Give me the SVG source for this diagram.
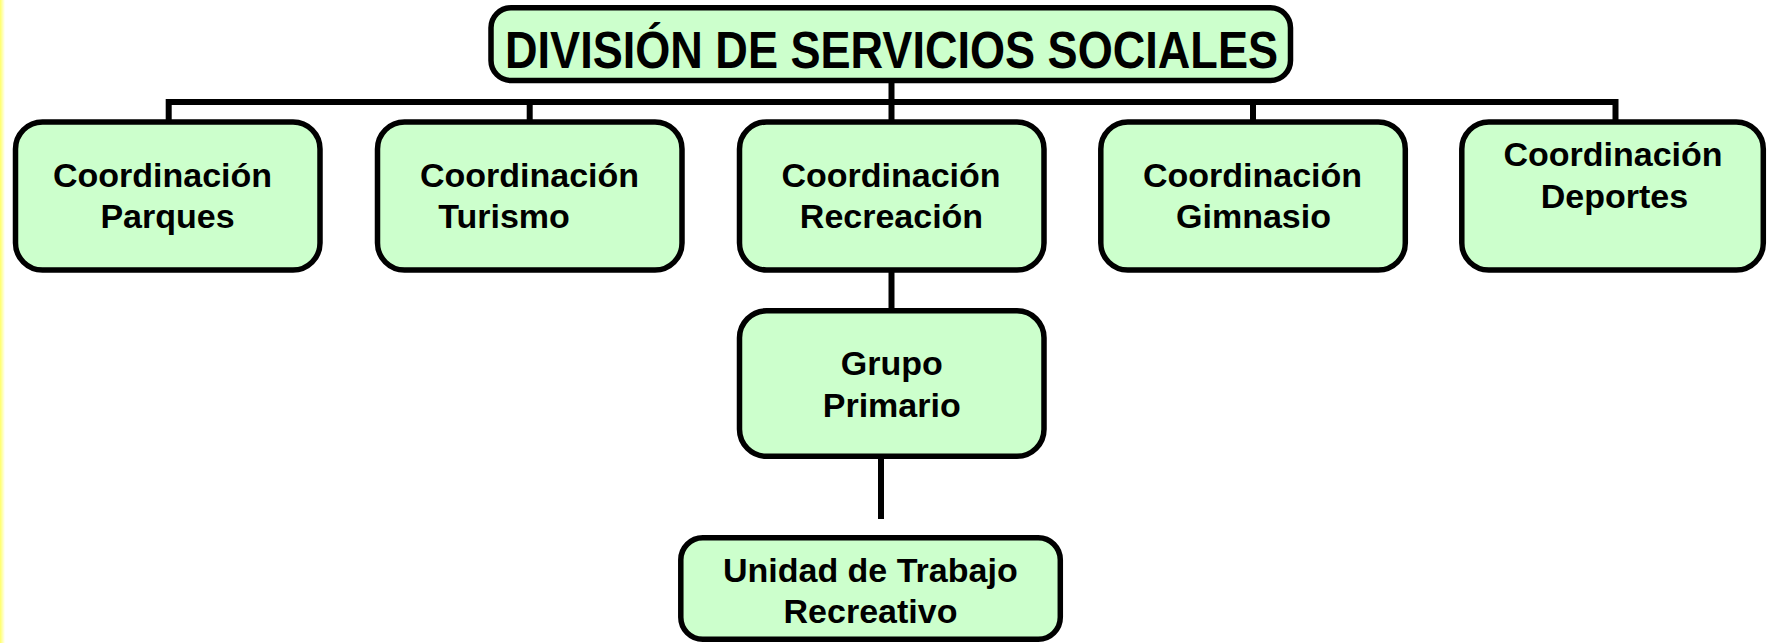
<svg xmlns="http://www.w3.org/2000/svg" width="1775" height="643" viewBox="0 0 1775 643">
<defs>
<linearGradient id="edge" x1="0" y1="0" x2="1" y2="0">
<stop offset="0" stop-color="#ffff66"/>
<stop offset="1" stop-color="#ffffff"/>
</linearGradient>
<style>
.box{fill:#ccffcc;stroke:#000;stroke-width:5.5}
.ln{stroke:#000;stroke-width:6;fill:none;stroke-linecap:butt}
.t{font-family:"Liberation Sans",Arial,sans-serif;font-weight:bold;font-size:34px;fill:#000}
.title{font-family:"Liberation Sans",Arial,sans-serif;font-weight:bold;font-size:51px;fill:#000}
</style>
</defs>
<rect x="0" y="0" width="1775" height="643" fill="#ffffff"/>
<rect x="0" y="0" width="5" height="643" fill="url(#edge)"/>
<g id="connectors">
<polyline class="ln" points="168.7,121 168.7,102 1615.5,102 1615.5,121"/>
<line class="ln" x1="891.5" y1="82" x2="891.5" y2="121"/>
<line class="ln" x1="529.7" y1="102" x2="529.7" y2="121"/>
<line class="ln" x1="1253" y1="102" x2="1253" y2="121"/>
<line class="ln" x1="891.5" y1="269" x2="891.5" y2="311"/>
<line class="ln" x1="881" y1="457" x2="881" y2="519"/>
</g>
<g id="division">
<rect class="box" x="491" y="7.8" width="799.5" height="72.7" rx="20"/>
<text class="title" x="505" y="68" textLength="773" lengthAdjust="spacingAndGlyphs">DIVISIÓN DE SERVICIOS SOCIALES</text>
</g>
<g id="parques">
<rect class="box" x="15.5" y="122" width="304.5" height="148" rx="27"/>
<text class="t" x="162.5" y="187" text-anchor="middle">Coordinación</text>
<text class="t" x="167.5" y="228" text-anchor="middle">Parques</text>
</g>
<g id="turismo">
<rect class="box" x="377.5" y="122" width="304.5" height="148" rx="27"/>
<text class="t" x="529.5" y="187" text-anchor="middle">Coordinación</text>
<text class="t" x="504" y="228" text-anchor="middle">Turismo</text>
</g>
<g id="recreacion">
<rect class="box" x="739.5" y="122" width="304.5" height="148" rx="27"/>
<text class="t" x="891" y="187" text-anchor="middle">Coordinación</text>
<text class="t" x="891.5" y="228" text-anchor="middle">Recreación</text>
</g>
<g id="gimnasio">
<rect class="box" x="1100.8" y="122" width="304.5" height="148" rx="27"/>
<text class="t" x="1252.5" y="187" text-anchor="middle">Coordinación</text>
<text class="t" x="1253.5" y="228" text-anchor="middle">Gimnasio</text>
</g>
<g id="deportes">
<rect class="box" x="1461.8" y="122" width="301.5" height="148" rx="27"/>
<text class="t" x="1613" y="166" text-anchor="middle">Coordinación</text>
<text class="t" x="1614.5" y="208" text-anchor="middle">Deportes</text>
</g>
<g id="grupo">
<rect class="box" x="739.5" y="310.8" width="304.5" height="145.5" rx="27"/>
<text class="t" x="891.7" y="375" text-anchor="middle">Grupo</text>
<text class="t" x="891.7" y="417" text-anchor="middle">Primario</text>
</g>
<g id="unidad">
<rect class="box" x="680.8" y="537.8" width="379.5" height="101.5" rx="22"/>
<text class="t" x="870.3" y="582" text-anchor="middle">Unidad de Trabajo</text>
<text class="t" x="870.5" y="623" text-anchor="middle">Recreativo</text>
</g>
</svg>
